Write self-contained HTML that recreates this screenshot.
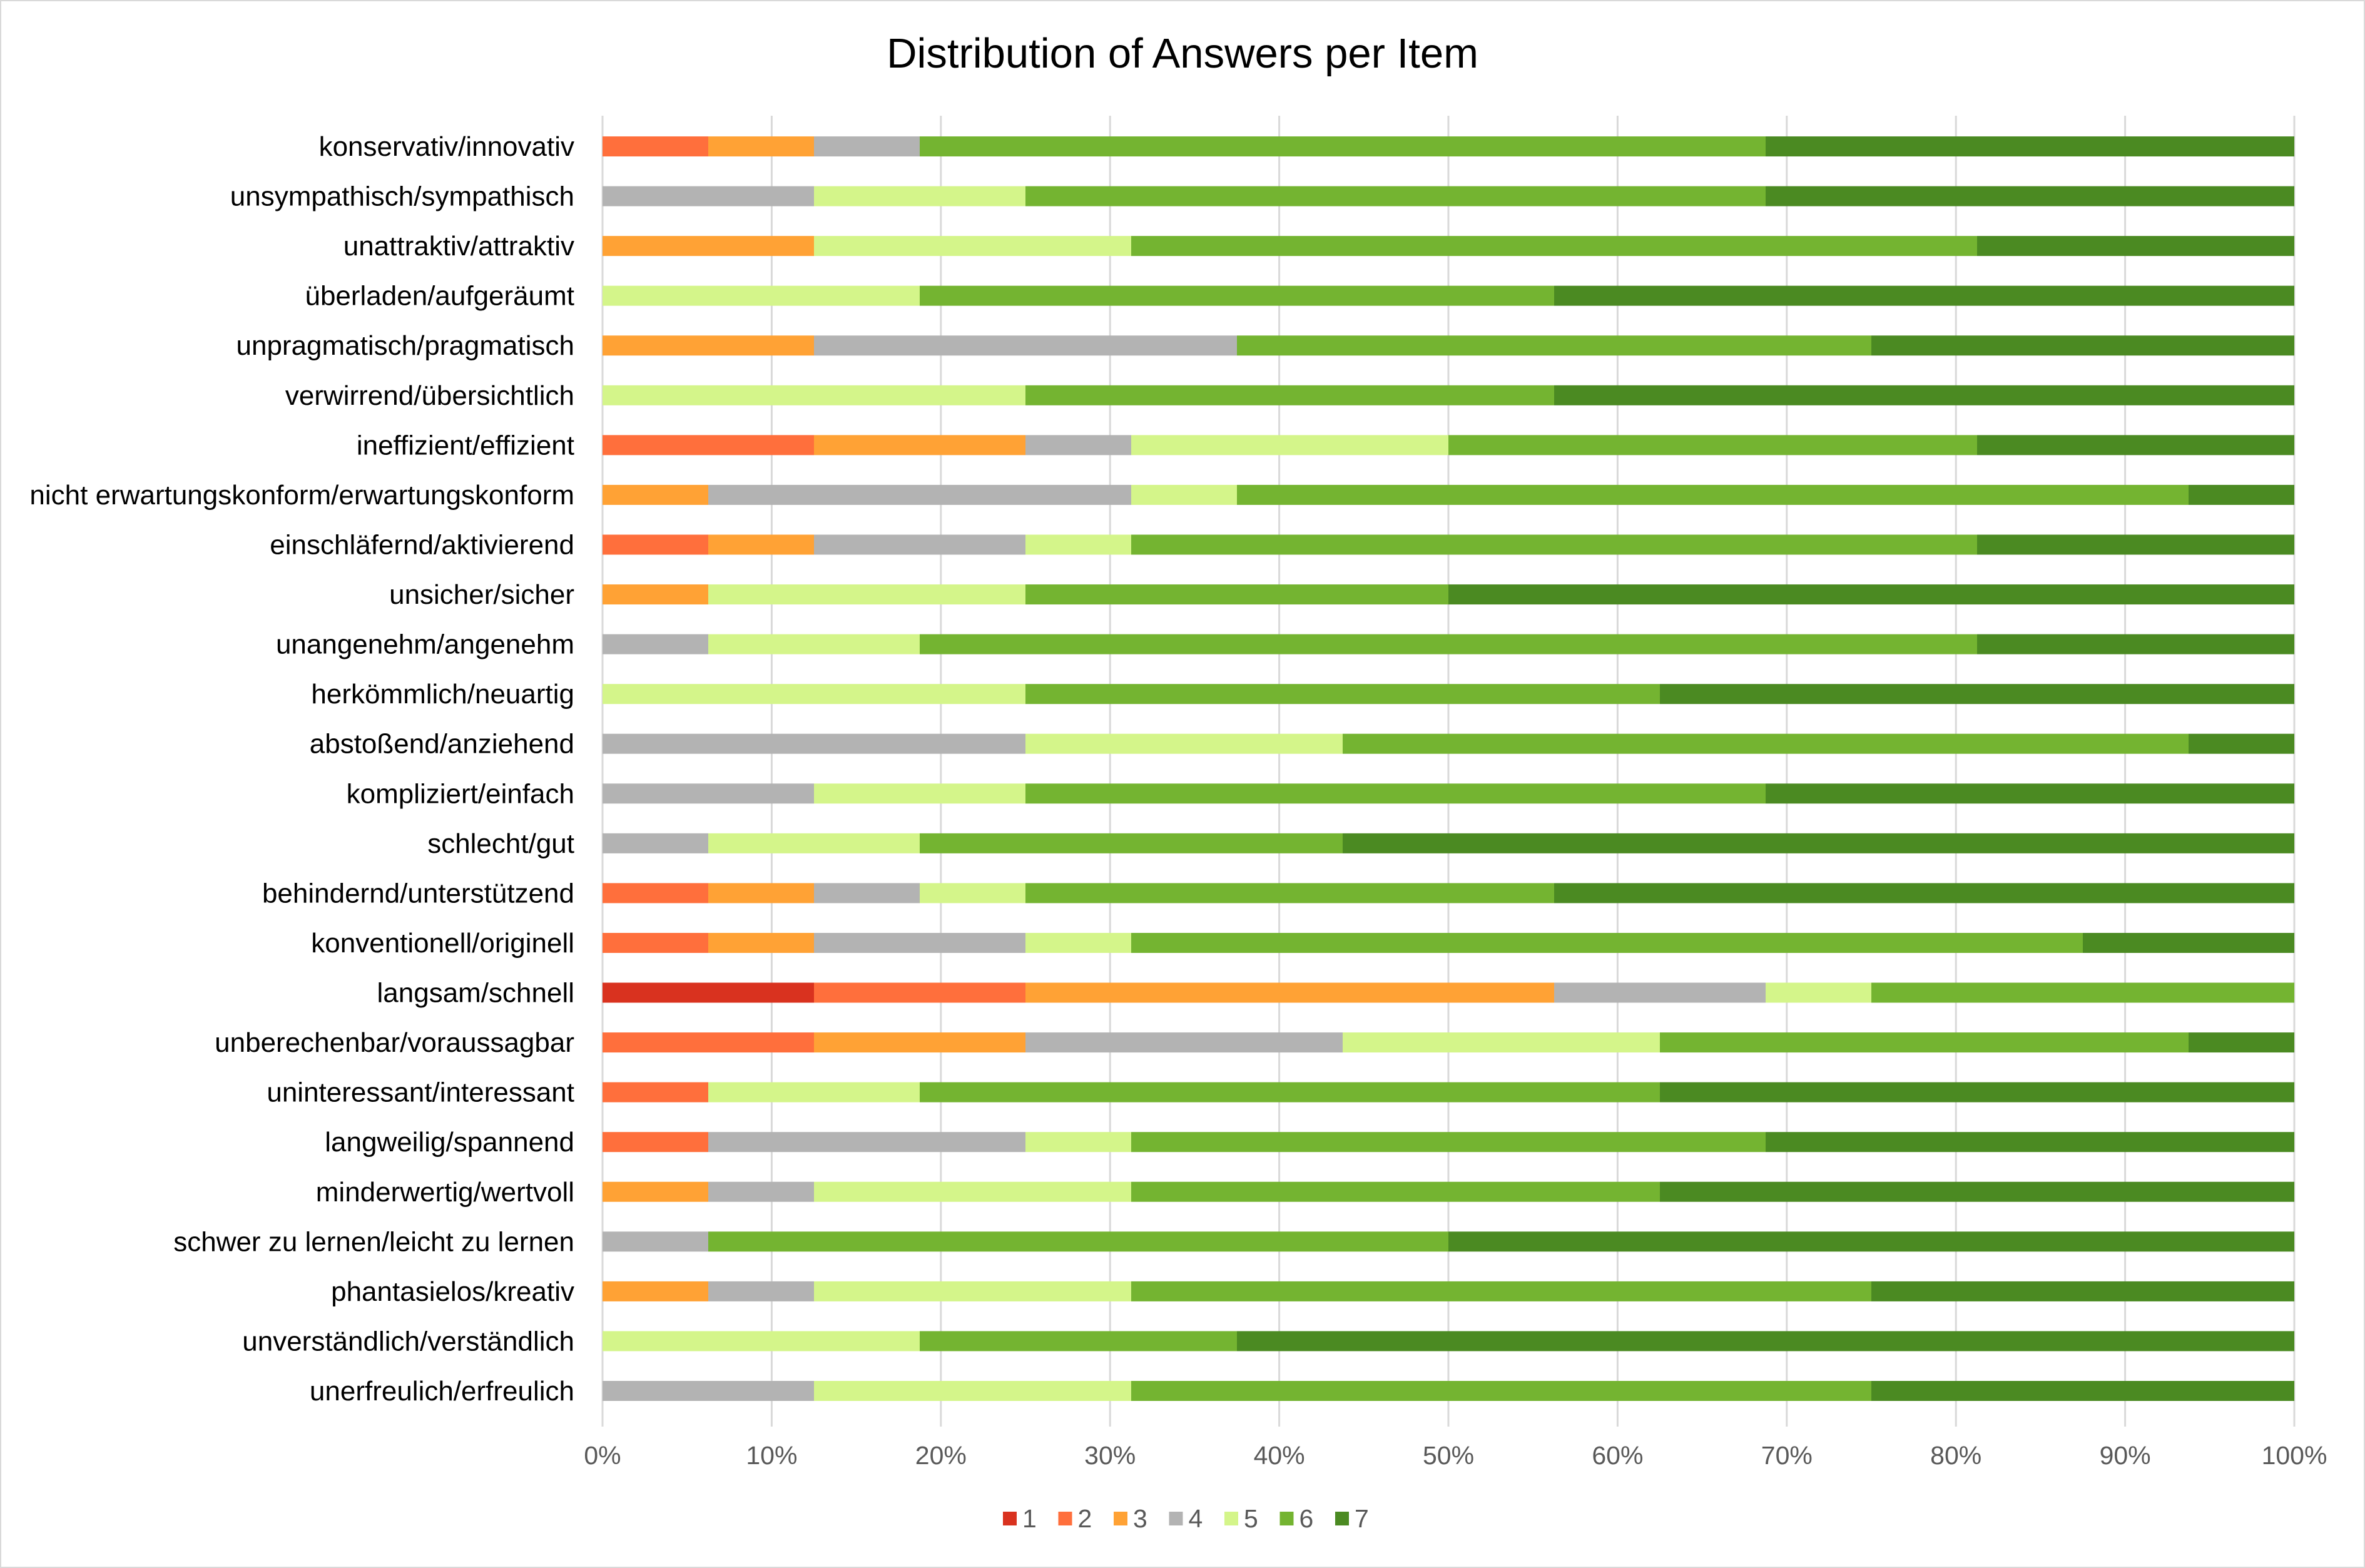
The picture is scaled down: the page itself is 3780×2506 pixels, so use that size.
<!DOCTYPE html>
<html><head><meta charset="utf-8"><style>
html,body{margin:0;padding:0;background:#fff}
svg{display:block}
text{font-family:"Liberation Sans",sans-serif}
</style></head><body>
<svg id="chart" width="3780" height="2506" viewBox="0 0 3780 2506" xmlns="http://www.w3.org/2000/svg">
<rect x="1" y="1" width="3778" height="2504" fill="#fff" stroke="#d9d9d9" stroke-width="2"/>
<text x="1890" y="108" font-size="67" text-anchor="middle" fill="#000">Distribution of Answers per Item</text>
<g id="grid"></g><g id="bars"></g><g id="ylabels"></g><g id="xlabels"></g><g id="legend"></g>
</svg>
<script>
const categories=["konservativ/innovativ","unsympathisch/sympathisch","unattraktiv/attraktiv","überladen/aufgeräumt","unpragmatisch/pragmatisch","verwirrend/übersichtlich","ineffizient/effizient","nicht erwartungskonform/erwartungskonform","einschläfernd/aktivierend","unsicher/sicher ","unangenehm/angenehm","herkömmlich/neuartig","abstoßend/anziehend","kompliziert/einfach","schlecht/gut ","behindernd/unterstützend","konventionell/originell","langsam/schnell","unberechenbar/voraussagbar","uninteressant/interessant","langweilig/spannend","minderwertig/wertvoll","schwer zu lernen/leicht zu lernen","phantasielos/kreativ","unverständlich/verständlich","unerfreulich/erfreulich"];
const series1=[0,0,0,0,0,0,0,0,0,0,0,0,0,0,0,0,0,2,0,0,0,0,0,0,0,0];
const series2=[1,0,0,0,0,0,2,0,1,0,0,0,0,0,0,1,1,2,2,1,1,0,0,0,0,0];
const series3=[1,0,2,0,2,0,2,1,1,1,0,0,0,0,0,1,1,5,2,0,0,1,0,1,0,0];
const series4=[1,2,0,0,4,0,1,4,2,0,1,0,4,2,1,1,2,2,3,0,3,1,1,1,0,2];
const series5=[0,2,3,3,0,4,3,1,1,3,2,4,3,2,2,1,1,1,3,2,1,3,0,3,3,3];
const series6=[8,7,8,6,6,5,5,9,8,4,10,6,8,7,4,5,9,4,5,7,6,5,7,7,3,7];
const series7=[5,5,3,7,4,7,3,1,3,8,3,6,1,5,9,7,2,0,1,6,5,6,8,4,10,4];
const seriesNames=["1","2","3","4","5","6","7"];
const tickLabels=["0%","10%","20%","30%","40%","50%","60%","70%","80%","90%","100%"];
const colors=["#d9321f","#ff6f3c","#ffa235","#b3b3b3","#d4f58a","#74b431","#4b8a22"];
const NS="http://www.w3.org/2000/svg";
const X0=963,X1=3667,Y0=234,STEP=79.56,BH=32,PT=185,PB=2280;
const xs=p=>X0+(X1-X0)*p/100;
const ys=i=>Y0+i*STEP;
function mk(t,a,p){const e=document.createElementNS(NS,t);for(const k in a)e.setAttribute(k,a[k]);p.appendChild(e);return e;}
const grid=document.getElementById('grid'),bars=document.getElementById('bars'),yl=document.getElementById('ylabels'),xl=document.getElementById('xlabels'),lg=document.getElementById('legend');
tickLabels.forEach((t,i)=>{const x=xs(i*10);
const l=mk('line',{x1:x,x2:x,y1:PT,y2:PB,stroke:'#d9d9d9','stroke-width':3},grid);


const tx=mk('text',{x:x,y:2340,'font-size':41,'text-anchor':'middle',fill:'#595959'},xl);tx.textContent=t;

});
const all=[series1,series2,series3,series4,series5,series6,series7];
categories.forEach((c,i)=>{const tot=all.reduce((s,a)=>s+a[i],0);let cum=0;
all.forEach((a,k)=>{if(!a[i])return;const p0=cum/tot*100;cum+=a[i];const p1=cum/tot*100;
const r=mk('rect',{x:xs(p0),y:ys(i)-BH/2,width:xs(p1)-xs(p0),height:BH,fill:colors[k]},bars);

});
const t=mk('text',{x:918,y:ys(i)+15,'font-size':44,'text-anchor':'end',fill:'#000'},yl);t.textContent=c;

});
seriesNames.forEach((n,k)=>{const lx=1603+k*88.5;
const r=mk('rect',{x:lx,y:2416,width:22,height:22,fill:colors[k]},lg);


const t=mk('text',{x:lx+31,y:2441,'font-size':41,fill:'#595959'},lg);t.textContent=n;

});
</script>
</body></html>
